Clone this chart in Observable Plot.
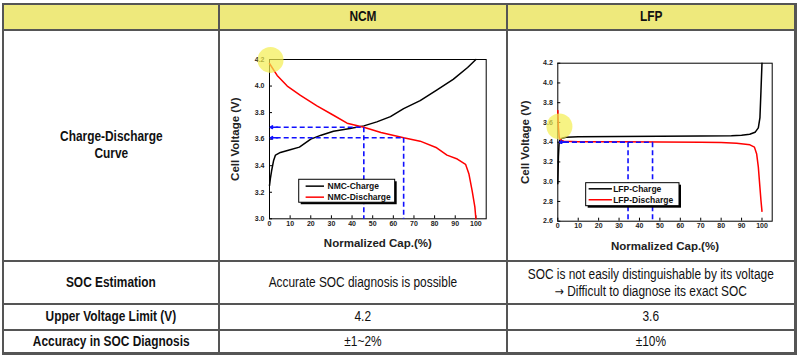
<!DOCTYPE html>
<html>
<head>
<meta charset="utf-8">
<script src="https://cdn.jsdelivr.net/npm/d3@7"></script>
<script src="https://cdn.jsdelivr.net/npm/@observablehq/plot@0.6"></script>
<style>
  html, body { margin: 0; padding: 0; background: #fff; }
  #page { position: relative; width: 800px; height: 359px; overflow: hidden; background: #fff;
          font-family: "Liberation Sans", Arial, "DejaVu Sans", sans-serif; color: #111; }
  .ln { position: absolute; background: #555; }
  .cell { position: absolute; display: flex; align-items: center; justify-content: center; text-align: center; }
  .cell > span { display: inline-block; transform: scaleX(0.85); white-space: nowrap; line-height: 17px; }
  .arr { font-family: "DejaVu Sans", sans-serif; font-size: 13px; }
  .hd { font-weight: bold; font-size: 14px; }
  .rl { font-weight: bold; font-size: 14px; }
  .tx { font-size: 14px; }
  .chart { position: absolute; }
</style>
</head>
<body>
<div id="page"></div>
<script>
// ---------------- data ----------------
const columns = ["NCM", "LFP"];
const rowLabels = ["Charge-Discharge<br>Curve", "SOC Estimation", "Upper Voltage Limit (V)", "Accuracy in SOC Diagnosis"];
const ncmTexts = ["Accurate SOC diagnosis is possible", "4.2", "±1~2%"];
const lfpTexts = ["SOC is not easily distinguishable by its voltage<br><span class='arr'>→</span> Difficult to diagnose its exact SOC", "3.6", "±10%"];

const capTicks = [0, 10, 20, 30, 40, 50, 60, 70, 80, 90, 100];
const ncmVoltTicks = [3.0, 3.2, 3.4, 3.6, 3.8, 4.0, 4.2];
const lfpVoltTicks = [2.6, 2.8, 3.0, 3.2, 3.4, 3.6, 3.8, 4.0, 4.2];

const ncmChargeCap = [0, 0.4, 1, 2, 2.9, 5.3, 10, 14.5, 20, 25, 31, 39, 45.7, 52, 58.6, 65, 73, 81, 89, 96, 100];
const ncmChargeV   = [3.25, 3.30, 3.36, 3.44, 3.48, 3.50, 3.52, 3.54, 3.60, 3.63, 3.66, 3.68, 3.70, 3.73, 3.77, 3.83, 3.89, 3.97, 4.05, 4.14, 4.20];
const ncmDischCap  = [0, 3.7, 8.6, 15, 23, 31, 37.6, 45.7, 54, 65, 73, 81, 86, 91, 95, 96.6, 98.2, 99.5, 100];
const ncmDischV    = [4.17, 4.08, 4.00, 3.93, 3.85, 3.78, 3.72, 3.69, 3.65, 3.61, 3.585, 3.535, 3.48, 3.45, 3.41, 3.34, 3.21, 3.09, 3.00];

const lfpChargeCap = [0, 0.3, 0.6, 1, 2, 4, 10, 30, 50, 70, 85, 90, 94, 96.6, 98.2, 99, 99.5, 100];
const lfpChargeV   = [2.98, 3.25, 3.38, 3.42, 3.44, 3.45, 3.455, 3.458, 3.46, 3.462, 3.465, 3.47, 3.48, 3.50, 3.545, 3.65, 3.92, 4.20];
const lfpDischCap  = [0, 0.3, 0.7, 1.5, 3, 10, 30, 50, 70, 80, 87.6, 94.1, 96.3, 97.4, 98.2, 99, 99.5, 100];
const lfpDischV    = [3.72, 3.55, 3.45, 3.42, 3.41, 3.405, 3.405, 3.403, 3.40, 3.398, 3.39, 3.373, 3.35, 3.28, 3.15, 2.94, 2.81, 2.70];

// guide lines (blue dashed): voltage level and capacity where it is read
const ncmGuideV   = [3.69, 3.61];
const ncmGuideCap = [45.7, 65];
const lfpGuideV   = [3.40, 3.40];
const lfpGuideCap = [46.4, 34.4];

// highlight circles (data coords)
const ncmHighlight = [{cap: 0.5, v: 4.197}];
const lfpHighlight = [{cap: 0.8, v: 3.56}];

// legend labels
const ncmLegend = ["NMC-Charge", "NMC-Discharge"];
const lfpLegend = ["LFP-Charge", "LFP-Discharge"];

// ---------------- table ----------------
const page = document.getElementById("page");
function el(cls, css, html) {
  const d = document.createElement("div");
  d.className = cls;
  Object.assign(d.style, css);
  if (html != null) d.innerHTML = html;
  page.appendChild(d);
  return d;
}
const X = [3, 219, 507, 795];
const Y = [4, 29.5, 261, 304, 329.5, 353];
// header fill
el("", {position: "absolute", left: X[0] + "px", top: Y[0] + "px", width: (X[3] - X[0]) + "px", height: (Y[1] - Y[0]) + "px", background: "#EEE97C"});
// horizontal lines
Y.forEach((y, i) => el("ln", {left: X[0] + "px", top: (y - 1) + "px", width: (X[3] - X[0] + 2) + "px", height: (i === Y.length - 1 ? 3 : 2) + "px"}));
// vertical lines
X.forEach((x, i) => el("ln", {left: (x - 1) + "px", top: Y[0] - 1 + "px", width: (i === X.length - 1 ? 3 : 2) + "px", height: (Y[5] - Y[0] + 3) + "px"}));
function cell(ci, ri, cls, html) {
  el("cell " + cls, {left: X[ci] + "px", top: Y[ri] + "px", width: (X[ci + 1] - X[ci]) + "px", height: (Y[ri + 1] - Y[ri]) + "px"}, "<span>" + html + "</span>");
}
columns.forEach((c, i) => cell(i + 1, 0, "hd", c));
rowLabels.forEach((r, i) => cell(0, i + 1, "rl", r));
ncmTexts.forEach((t, i) => cell(1, i + 2, "tx", t));
lfpTexts.forEach((t, i) => cell(2, i + 2, "tx", t));

// ---------------- charts ----------------
const zip = (a, b) => a.map((x, i) => ({cap: x, v: b[i]}));
const FONT = "'Liberation Sans', Arial, sans-serif";

function chart(cfg) {
  const yMin = cfg.yDomain[0];
  const hGuides = cfg.guideV.map((v, i) => ({x1: 3, x2: cfg.guideCap[i], y: v}));
  const vGuides = cfg.guideV.map((v, i) => ({x: cfg.guideCap[i], y1: v, y2: yMin}));
  const arrows = cfg.guideV.map(v => ({x1: 4, x2: cfg.arrowTip, y: v}));
  const lg = cfg.legend;
  const legendRows = cfg.legendLabels.map((t, i) => ({t, y: lg.rows[i], c: i === 0 ? "black" : "red"}));
  return Plot.plot({
    width: 284, height: 228,
    marginLeft: cfg.margins[0], marginTop: cfg.margins[1], marginRight: cfg.margins[2], marginBottom: cfg.margins[3],
    x: {domain: [0, 105]},
    y: {domain: cfg.yDomain},
    style: {fontFamily: FONT, background: "transparent", overflow: "visible", color: "#222"},
    marks: [
      Plot.frame({stroke: "black", strokeWidth: 1}),
      Plot.axisX({ticks: capTicks, tickSize: -3, tickPadding: 5, tickFormat: d => String(d), fontSize: 7, fontWeight: "bold", label: null, stroke: "black"}),
      Plot.axisY({ticks: cfg.yTicks, tickSize: -3, tickPadding: 8, tickFormat: d3.format(".1f"), fontSize: 7, fontWeight: "bold", label: null, stroke: "black"}),
      Plot.text(["Cell Voltage (V)"], {frameAnchor: "left", dx: cfg.yLabelDx, rotate: -90, textAnchor: "middle", lineAnchor: "middle", fontSize: 11.5, fontWeight: "bold", fill: "#222"}),
      Plot.text(["Normalized Cap.(%)"], {frameAnchor: "bottom", dy: 25, lineAnchor: "middle", fontSize: 11.5, fontWeight: "bold", fill: "#222"}),
      Plot.line(zip(cfg.chargeCap, cfg.chargeV), {x: "cap", y: "v", stroke: "black", strokeWidth: 1.5}),
      Plot.line(zip(cfg.dischCap, cfg.dischV), {x: "cap", y: "v", stroke: "#ff0000", strokeWidth: 1.5}),
      Plot.link(hGuides, {x1: "x1", x2: "x2", y1: "y", y2: "y", stroke: "#1010ff", strokeWidth: 1.6, strokeDasharray: "5,3"}),
      Plot.link(vGuides, {x1: "x", x2: "x", y1: "y1", y2: "y2", stroke: "#1010ff", strokeWidth: 1.6, strokeDasharray: "5,3"}),
      Plot.arrow(arrows, {x1: "x1", x2: "x2", y1: "y", y2: "y", stroke: "#1010ff", strokeWidth: 1.6, headLength: 6}),
      // legend
      Plot.rect([lg], {x1: "x1", x2: "x2", y1: "y1", y2: "y2", fill: "black", dx: 2, dy: 2}),
      Plot.rect([lg], {x1: "x1", x2: "x2", y1: "y1", y2: "y2", fill: "white", stroke: "black", strokeWidth: 1}),
      Plot.link(legendRows, {x1: lg.lineX1, x2: lg.lineX2, y1: "y", y2: "y", stroke: "c", strokeWidth: 1.5}),
      Plot.text(legendRows, {x: lg.textX, y: "y", text: "t", textAnchor: "start", fontSize: 8.5, fontWeight: "bold", fill: "#111"}),
      Plot.dot(cfg.highlight, {x: "cap", y: "v", r: 13, fill: "#f4ee50", fillOpacity: 0.7, stroke: "none"})
    ]
  });
}

const ncm = chart({
  margins: [47, 27, 20.3, 41.7],
  yDomain: [3.0, 4.2], yTicks: ncmVoltTicks, yLabelDx: -34,
  chargeCap: ncmChargeCap, chargeV: ncmChargeV, dischCap: ncmDischCap, dischV: ncmDischV,
  guideV: ncmGuideV, guideCap: ncmGuideCap, arrowTip: 0.4,
  legend: {x1: 14.4, x2: 60.9, y1: 3.121, y2: 3.294, rows: [3.246, 3.163], lineX1: 17.5, lineX2: 26.4, textX: 28.1},
  legendLabels: ncmLegend,
  highlight: ncmHighlight
});
ncm.classList.add("chart");
Object.assign(ncm.style, {left: "222px", top: "32px"});
page.appendChild(ncm);

const lfp = chart({
  margins: [48.3, 30.7, 21.3, 39.3],
  yDomain: [2.6, 4.2], yTicks: lfpVoltTicks, yLabelDx: -32,
  chargeCap: lfpChargeCap, chargeV: lfpChargeV, dischCap: lfpDischCap, dischV: lfpDischV,
  guideV: lfpGuideV, guideCap: lfpGuideCap, arrowTip: 1.0,
  legend: {x1: 13.9, x2: 59.6, y1: 2.752, y2: 2.985, rows: [2.928, 2.817], lineX1: 15.1, lineX2: 26.5, textX: 27.1},
  legendLabels: lfpLegend,
  highlight: lfpHighlight
});
lfp.classList.add("chart");
Object.assign(lfp.style, {left: "509px", top: "32px"});
page.appendChild(lfp);
</script>
</body>
</html>
